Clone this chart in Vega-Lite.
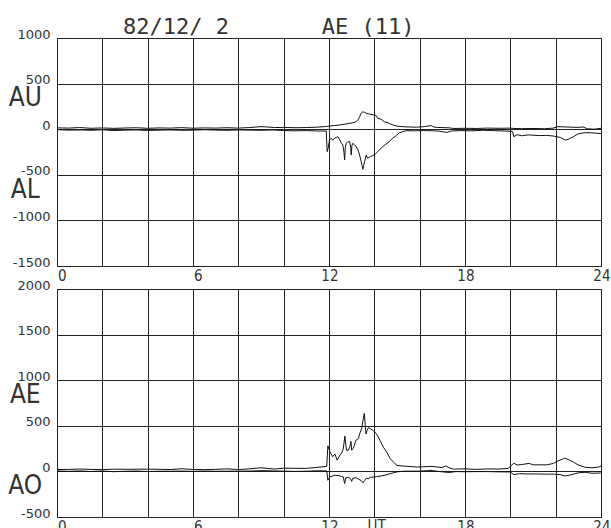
{
  "$schema": "https://vega.github.io/schema/vega-lite/v6.json",
  "padding": {"left": 7, "top": 15, "right": 0, "bottom": 0},
  "background": "white",
  "spacing": 23,
  "bounds": "flush",
  "datasets": {
    "upper": [
      {"h":0.0,"s":"AU","v":15},{"h":0.5,"s":"AU","v":12},{"h":1.0,"s":"AU","v":18},{"h":1.5,"s":"AU","v":10},{"h":2.0,"s":"AU","v":14},{"h":2.5,"s":"AU","v":9},{"h":3.0,"s":"AU","v":13},{"h":3.5,"s":"AU","v":16},{"h":4.0,"s":"AU","v":10},{"h":4.5,"s":"AU","v":14},{"h":5.0,"s":"AU","v":12},{"h":5.5,"s":"AU","v":17},{"h":6.0,"s":"AU","v":11},{"h":6.5,"s":"AU","v":14},{"h":7.0,"s":"AU","v":12},{"h":7.5,"s":"AU","v":16},{"h":8.0,"s":"AU","v":12},{"h":8.5,"s":"AU","v":18},{"h":9.0,"s":"AU","v":28},{"h":9.3,"s":"AU","v":24},{"h":9.6,"s":"AU","v":18},{"h":10.0,"s":"AU","v":20},{"h":10.5,"s":"AU","v":16},{"h":11.0,"s":"AU","v":18},{"h":11.44,"s":"AU","v":22},{"h":11.9,"s":"AU","v":30},{"h":12.02,"s":"AU","v":35},{"h":12.24,"s":"AU","v":40},{"h":12.46,"s":"AU","v":46},{"h":12.69,"s":"AU","v":55},{"h":12.91,"s":"AU","v":64},{"h":13.05,"s":"AU","v":70},{"h":13.2,"s":"AU","v":82},{"h":13.3,"s":"AU","v":110},{"h":13.35,"s":"AU","v":137},{"h":13.42,"s":"AU","v":175},{"h":13.49,"s":"AU","v":190},{"h":13.57,"s":"AU","v":185},{"h":13.64,"s":"AU","v":175},{"h":13.78,"s":"AU","v":166},{"h":13.9,"s":"AU","v":160},{"h":14.0,"s":"AU","v":155},{"h":14.08,"s":"AU","v":150},{"h":14.15,"s":"AU","v":119},{"h":14.3,"s":"AU","v":110},{"h":14.44,"s":"AU","v":82},{"h":14.6,"s":"AU","v":71},{"h":14.74,"s":"AU","v":53},{"h":14.96,"s":"AU","v":35},{"h":15.26,"s":"AU","v":27},{"h":15.85,"s":"AU","v":22},{"h":16.2,"s":"AU","v":28},{"h":16.51,"s":"AU","v":40},{"h":16.6,"s":"AU","v":25},{"h":16.73,"s":"AU","v":20},{"h":17.3,"s":"AU","v":15},{"h":17.5,"s":"AU","v":8},{"h":18.0,"s":"AU","v":10},{"h":18.5,"s":"AU","v":8},{"h":19.0,"s":"AU","v":12},{"h":19.5,"s":"AU","v":10},{"h":20.0,"s":"AU","v":12},{"h":20.15,"s":"AU","v":8},{"h":20.5,"s":"AU","v":6},{"h":21.0,"s":"AU","v":8},{"h":21.5,"s":"AU","v":5},{"h":21.9,"s":"AU","v":12},{"h":22.1,"s":"AU","v":28},{"h":22.4,"s":"AU","v":25},{"h":22.7,"s":"AU","v":22},{"h":23.0,"s":"AU","v":20},{"h":23.2,"s":"AU","v":25},{"h":23.4,"s":"AU","v":5},{"h":23.7,"s":"AU","v":0},{"h":24.0,"s":"AU","v":10},
      {"h":0.0,"s":"AL","v":-5},{"h":0.5,"s":"AL","v":-10},{"h":1.0,"s":"AL","v":-8},{"h":1.5,"s":"AL","v":-12},{"h":2.0,"s":"AL","v":-6},{"h":2.5,"s":"AL","v":-15},{"h":3.0,"s":"AL","v":-10},{"h":3.5,"s":"AL","v":-8},{"h":4.0,"s":"AL","v":-14},{"h":4.5,"s":"AL","v":-10},{"h":5.0,"s":"AL","v":-8},{"h":5.5,"s":"AL","v":-12},{"h":6.0,"s":"AL","v":-10},{"h":6.5,"s":"AL","v":-6},{"h":7.0,"s":"AL","v":-10},{"h":7.5,"s":"AL","v":-12},{"h":8.0,"s":"AL","v":-8},{"h":8.5,"s":"AL","v":-10},{"h":9.0,"s":"AL","v":-12},{"h":9.5,"s":"AL","v":-8},{"h":10.0,"s":"AL","v":-15},{"h":10.5,"s":"AL","v":-18},{"h":11.0,"s":"AL","v":-15},{"h":11.5,"s":"AL","v":-20},{"h":11.88,"s":"AL","v":-20},{"h":11.92,"s":"AL","v":-246},{"h":11.97,"s":"AL","v":-200},{"h":12.02,"s":"AL","v":-118},{"h":12.1,"s":"AL","v":-100},{"h":12.17,"s":"AL","v":-120},{"h":12.24,"s":"AL","v":-100},{"h":12.32,"s":"AL","v":-90},{"h":12.39,"s":"AL","v":-82},{"h":12.46,"s":"AL","v":-111},{"h":12.54,"s":"AL","v":-150},{"h":12.61,"s":"AL","v":-173},{"h":12.66,"s":"AL","v":-250},{"h":12.69,"s":"AL","v":-338},{"h":12.72,"s":"AL","v":-200},{"h":12.76,"s":"AL","v":-155},{"h":12.83,"s":"AL","v":-137},{"h":12.91,"s":"AL","v":-137},{"h":12.96,"s":"AL","v":-200},{"h":12.98,"s":"AL","v":-283},{"h":13.01,"s":"AL","v":-180},{"h":13.05,"s":"AL","v":-155},{"h":13.12,"s":"AL","v":-170},{"h":13.2,"s":"AL","v":-192},{"h":13.28,"s":"AL","v":-230},{"h":13.35,"s":"AL","v":-283},{"h":13.42,"s":"AL","v":-356},{"h":13.46,"s":"AL","v":-400},{"h":13.49,"s":"AL","v":-440},{"h":13.53,"s":"AL","v":-400},{"h":13.57,"s":"AL","v":-356},{"h":13.64,"s":"AL","v":-283},{"h":13.71,"s":"AL","v":-320},{"h":13.76,"s":"AL","v":-310},{"h":13.82,"s":"AL","v":-301},{"h":13.93,"s":"AL","v":-290},{"h":14.05,"s":"AL","v":-270},{"h":14.15,"s":"AL","v":-246},{"h":14.25,"s":"AL","v":-220},{"h":14.37,"s":"AL","v":-192},{"h":14.48,"s":"AL","v":-170},{"h":14.6,"s":"AL","v":-148},{"h":14.7,"s":"AL","v":-125},{"h":14.81,"s":"AL","v":-100},{"h":14.96,"s":"AL","v":-71},{"h":15.11,"s":"AL","v":-38},{"h":15.4,"s":"AL","v":-16},{"h":15.8,"s":"AL","v":-18},{"h":16.3,"s":"AL","v":-15},{"h":16.8,"s":"AL","v":-20},{"h":17.2,"s":"AL","v":-35},{"h":17.4,"s":"AL","v":-20},{"h":17.8,"s":"AL","v":-15},{"h":18.3,"s":"AL","v":-18},{"h":18.8,"s":"AL","v":-12},{"h":19.3,"s":"AL","v":-16},{"h":19.8,"s":"AL","v":-20},{"h":20.1,"s":"AL","v":-25},{"h":20.15,"s":"AL","v":-82},{"h":20.3,"s":"AL","v":-60},{"h":20.5,"s":"AL","v":-72},{"h":20.8,"s":"AL","v":-62},{"h":21.0,"s":"AL","v":-66},{"h":21.3,"s":"AL","v":-70},{"h":21.6,"s":"AL","v":-68},{"h":21.9,"s":"AL","v":-75},{"h":22.2,"s":"AL","v":-90},{"h":22.35,"s":"AL","v":-110},{"h":22.45,"s":"AL","v":-120},{"h":22.6,"s":"AL","v":-105},{"h":22.8,"s":"AL","v":-80},{"h":23.0,"s":"AL","v":-50},{"h":23.3,"s":"AL","v":-38},{"h":23.6,"s":"AL","v":-40},{"h":24.0,"s":"AL","v":-48}
    ],
    "lower": [
      {"h":0.0,"s":"AE","v":20},{"h":0.5,"s":"AE","v":22},{"h":1.0,"s":"AE","v":26},{"h":1.5,"s":"AE","v":22},{"h":2.0,"s":"AE","v":20},{"h":2.5,"s":"AE","v":24},{"h":3.0,"s":"AE","v":23},{"h":3.5,"s":"AE","v":24},{"h":4.0,"s":"AE","v":24},{"h":4.5,"s":"AE","v":24},{"h":5.0,"s":"AE","v":20},{"h":5.5,"s":"AE","v":29},{"h":6.0,"s":"AE","v":21},{"h":6.5,"s":"AE","v":20},{"h":7.0,"s":"AE","v":22},{"h":7.5,"s":"AE","v":28},{"h":8.0,"s":"AE","v":20},{"h":8.5,"s":"AE","v":28},{"h":9.0,"s":"AE","v":40},{"h":9.3,"s":"AE","v":32},{"h":9.6,"s":"AE","v":26},{"h":10.0,"s":"AE","v":35},{"h":10.5,"s":"AE","v":34},{"h":11.0,"s":"AE","v":33},{"h":11.5,"s":"AE","v":45},{"h":11.9,"s":"AE","v":55},{"h":11.95,"s":"AE","v":280},{"h":12.04,"s":"AE","v":215},{"h":12.1,"s":"AE","v":190},{"h":12.16,"s":"AE","v":160},{"h":12.26,"s":"AE","v":190},{"h":12.36,"s":"AE","v":123},{"h":12.48,"s":"AE","v":178},{"h":12.56,"s":"AE","v":200},{"h":12.63,"s":"AE","v":247},{"h":12.7,"s":"AE","v":387},{"h":12.74,"s":"AE","v":300},{"h":12.77,"s":"AE","v":233},{"h":12.85,"s":"AE","v":230},{"h":12.92,"s":"AE","v":270},{"h":12.97,"s":"AE","v":330},{"h":13.0,"s":"AE","v":233},{"h":13.07,"s":"AE","v":250},{"h":13.19,"s":"AE","v":343},{"h":13.3,"s":"AE","v":360},{"h":13.36,"s":"AE","v":417},{"h":13.44,"s":"AE","v":470},{"h":13.5,"s":"AE","v":560},{"h":13.56,"s":"AE","v":636},{"h":13.6,"s":"AE","v":500},{"h":13.63,"s":"AE","v":410},{"h":13.68,"s":"AE","v":450},{"h":13.74,"s":"AE","v":480},{"h":13.84,"s":"AE","v":465},{"h":13.96,"s":"AE","v":447},{"h":14.1,"s":"AE","v":410},{"h":14.25,"s":"AE","v":340},{"h":14.4,"s":"AE","v":265},{"h":14.55,"s":"AE","v":210},{"h":14.7,"s":"AE","v":140},{"h":14.85,"s":"AE","v":100},{"h":15.0,"s":"AE","v":65},{"h":15.3,"s":"AE","v":58},{"h":15.9,"s":"AE","v":48},{"h":16.5,"s":"AE","v":55},{"h":17.0,"s":"AE","v":42},{"h":17.15,"s":"AE","v":60},{"h":17.3,"s":"AE","v":40},{"h":17.5,"s":"AE","v":25},{"h":18.0,"s":"AE","v":28},{"h":18.5,"s":"AE","v":22},{"h":19.0,"s":"AE","v":27},{"h":19.5,"s":"AE","v":26},{"h":19.9,"s":"AE","v":32},{"h":20.15,"s":"AE","v":90},{"h":20.3,"s":"AE","v":70},{"h":20.5,"s":"AE","v":75},{"h":20.84,"s":"AE","v":88},{"h":21.0,"s":"AE","v":72},{"h":21.3,"s":"AE","v":72},{"h":21.6,"s":"AE","v":72},{"h":21.9,"s":"AE","v":87},{"h":22.1,"s":"AE","v":115},{"h":22.3,"s":"AE","v":135},{"h":22.4,"s":"AE","v":145},{"h":22.6,"s":"AE","v":125},{"h":22.8,"s":"AE","v":100},{"h":23.0,"s":"AE","v":70},{"h":23.3,"s":"AE","v":45},{"h":23.6,"s":"AE","v":40},{"h":23.9,"s":"AE","v":48},{"h":24.0,"s":"AE","v":60},
      {"h":0.0,"s":"AO","v":5},{"h":0.5,"s":"AO","v":1},{"h":1.0,"s":"AO","v":5},{"h":1.5,"s":"AO","v":-1},{"h":2.0,"s":"AO","v":4},{"h":2.5,"s":"AO","v":-3},{"h":3.0,"s":"AO","v":1},{"h":3.5,"s":"AO","v":4},{"h":4.0,"s":"AO","v":-2},{"h":4.5,"s":"AO","v":2},{"h":5.0,"s":"AO","v":2},{"h":5.5,"s":"AO","v":3},{"h":6.0,"s":"AO","v":0},{"h":6.5,"s":"AO","v":4},{"h":7.0,"s":"AO","v":1},{"h":7.5,"s":"AO","v":2},{"h":8.0,"s":"AO","v":2},{"h":8.5,"s":"AO","v":4},{"h":9.0,"s":"AO","v":8},{"h":9.5,"s":"AO","v":6},{"h":10.0,"s":"AO","v":3},{"h":10.5,"s":"AO","v":0},{"h":11.0,"s":"AO","v":2},{"h":11.5,"s":"AO","v":7},{"h":11.9,"s":"AO","v":5},{"h":11.95,"s":"AO","v":-97},{"h":12.04,"s":"AO","v":-60},{"h":12.16,"s":"AO","v":-50},{"h":12.26,"s":"AO","v":-42},{"h":12.4,"s":"AO","v":-45},{"h":12.55,"s":"AO","v":-55},{"h":12.63,"s":"AO","v":-60},{"h":12.69,"s":"AO","v":-133},{"h":12.74,"s":"AO","v":-70},{"h":12.85,"s":"AO","v":-64},{"h":12.95,"s":"AO","v":-80},{"h":13.0,"s":"AO","v":-110},{"h":13.05,"s":"AO","v":-75},{"h":13.2,"s":"AO","v":-70},{"h":13.3,"s":"AO","v":-86},{"h":13.42,"s":"AO","v":-100},{"h":13.5,"s":"AO","v":-125},{"h":13.57,"s":"AO","v":-100},{"h":13.64,"s":"AO","v":-75},{"h":13.72,"s":"AO","v":-80},{"h":13.84,"s":"AO","v":-64},{"h":14.0,"s":"AO","v":-62},{"h":14.1,"s":"AO","v":-57},{"h":14.3,"s":"AO","v":-50},{"h":14.5,"s":"AO","v":-40},{"h":14.7,"s":"AO","v":-24},{"h":14.85,"s":"AO","v":-15},{"h":15.0,"s":"AO","v":-5},{"h":15.3,"s":"AO","v":2},{"h":16.0,"s":"AO","v":3},{"h":16.5,"s":"AO","v":10},{"h":17.0,"s":"AO","v":-5},{"h":17.3,"s":"AO","v":-12},{"h":17.6,"s":"AO","v":-2},{"h":18.0,"s":"AO","v":-4},{"h":18.5,"s":"AO","v":-2},{"h":19.0,"s":"AO","v":-2},{"h":19.5,"s":"AO","v":-5},{"h":20.0,"s":"AO","v":-6},{"h":20.15,"s":"AO","v":-35},{"h":20.4,"s":"AO","v":-25},{"h":20.8,"s":"AO","v":-28},{"h":21.2,"s":"AO","v":-28},{"h":21.6,"s":"AO","v":-30},{"h":21.9,"s":"AO","v":-30},{"h":22.2,"s":"AO","v":-35},{"h":22.4,"s":"AO","v":-50},{"h":22.6,"s":"AO","v":-42},{"h":22.8,"s":"AO","v":-30},{"h":23.0,"s":"AO","v":-15},{"h":23.3,"s":"AO","v":-10},{"h":23.6,"s":"AO","v":-20},{"h":24.0,"s":"AO","v":-18}
    ]
  },
  "vconcat": [
    {
      "width": 544,
      "height": 228,
      "title": {"text": "82/12/\u00a02\u00a0\u00a0\u00a0\u00a0\u00a0\u00a0\u00a0AE\u00a0(11)", "anchor": "start", "frame": "group", "dx": 66, "offset": -11, "font": "DejaVu Sans Mono", "fontSize": 22, "fontWeight": "normal", "color": "#333"},
      "layer": [
        {
          "data": {"name": "upper"},
          "mark": {"type": "line", "color": "#111", "strokeWidth": 1, "clip": true},
          "encoding": {
            "x": {"field": "h", "type": "quantitative", "scale": {"domain": [0, 24], "nice": false},
              "axis": {"values": [0,1,2,3,4,5,6,7,8,9,10,11,12,13,14,15,16,17,18,19,20,21,22,23,24], "labelExpr": "datum.value % 6 == 0 ? '' + datum.value : ''", "title": null}},
            "y": {"field": "v", "type": "quantitative", "scale": {"domain": [-1500, 1000], "nice": false},
              "axis": {"values": [-1500,-1000,-500,0,500,1000], "labelExpr": "'' + datum.value", "title": null}},
            "detail": {"field": "s"}
          }
        },
        {
          "data": {"values": [{"name": "AU"}]},
          "mark": {"type": "text", "font": "DejaVu Sans Condensed, DejaVu Sans", "fontSize": 26, "fontWeight": 300, "color": "#333", "align": "center", "baseline": "middle", "clip": false},
          "encoding": {"text": {"field": "name"}, "x": {"datum": -1.4}, "y": {"datum": 342}}
        },
        {
          "data": {"values": [{"name": "AL"}]},
          "mark": {"type": "text", "font": "DejaVu Sans Condensed, DejaVu Sans", "fontSize": 26, "fontWeight": 300, "color": "#333", "align": "center", "baseline": "middle", "clip": false},
          "encoding": {"text": {"field": "name"}, "x": {"datum": -1.4}, "y": {"datum": -666}}
        }
      ]
    },
    {
      "width": 544,
      "height": 228,
      "layer": [
        {
          "data": {"name": "lower"},
          "mark": {"type": "line", "color": "#111", "strokeWidth": 1, "clip": true},
          "encoding": {
            "x": {"field": "h", "type": "quantitative", "scale": {"domain": [0, 24], "nice": false},
              "axis": {"values": [0,1,2,3,4,5,6,7,8,9,10,11,12,13,14,15,16,17,18,19,20,21,22,23,24], "labelExpr": "datum.value % 6 == 0 ? '' + datum.value : ''", "title": null}},
            "y": {"field": "v", "type": "quantitative", "scale": {"domain": [-500, 2000], "nice": false},
              "axis": {"values": [-500,0,500,1000,1500,2000], "labelExpr": "'' + datum.value", "title": null}},
            "detail": {"field": "s"}
          }
        },
        {
          "data": {"values": [{"name": "AE"}]},
          "mark": {"type": "text", "font": "DejaVu Sans Condensed, DejaVu Sans", "fontSize": 26, "fontWeight": 300, "color": "#333", "align": "center", "baseline": "middle", "clip": false},
          "encoding": {"text": {"field": "name"}, "x": {"datum": -1.4}, "y": {"datum": 837}}
        },
        {
          "data": {"values": [{"name": "AO"}]},
          "mark": {"type": "text", "font": "DejaVu Sans Condensed, DejaVu Sans", "fontSize": 26, "fontWeight": 300, "color": "#333", "align": "center", "baseline": "middle", "clip": false},
          "encoding": {"text": {"field": "name"}, "x": {"datum": -1.4}, "y": {"datum": -163}}
        },
        {
          "data": {"values": [{"name": "UT"}]},
          "mark": {"type": "text", "font": "DejaVu Sans Condensed, DejaVu Sans", "fontSize": 15, "color": "#333", "align": "center", "baseline": "top", "dy": 2, "clip": false},
          "encoding": {"text": {"field": "name"}, "x": {"datum": 14.1}, "y": {"datum": -500}}
        }
      ]
    }
  ],
  "config": {
    "view": {"stroke": "#111", "strokeWidth": 1},
    "axis": {
      "grid": true, "gridColor": "#222", "gridOpacity": 1, "gridWidth": 1,
      "domain": false, "ticks": false, "labelColor": "#333"
    },
    "axisX": {"labelFont": "DejaVu Sans Condensed, DejaVu Sans", "labelFontSize": 15, "labelPadding": 2, "labelBaseline": "top", "labelFlush": false, "labelOverlap": false, "labelAlign": "right", "labelOffset": 9},
    "axisY": {"labelFont": "DejaVu Sans", "labelFontSize": 13, "labelPadding": 7, "labelBaseline": "alphabetic", "labelFlush": false, "labelOverlap": false}
  }
}
